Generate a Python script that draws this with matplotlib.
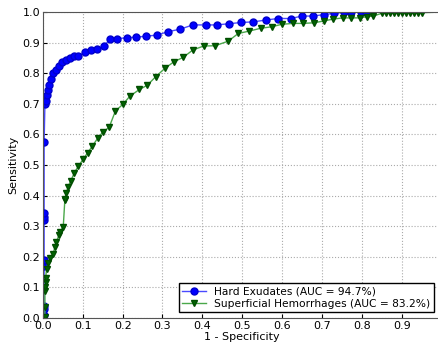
import matplotlib
matplotlib.use('Agg')
from matplotlib import pyplot as plt

# ROC points (1 - specificity, sensitivity)
he_fpr = [0.0, 0.003, 0.003, 0.003, 0.003, 0.003, 0.003, 0.003, 0.003, 0.003, 0.003,
          0.005, 0.0075, 0.009, 0.012, 0.015, 0.020, 0.026, 0.032, 0.040, 0.048,
          0.059, 0.068, 0.079, 0.089, 0.105, 0.120, 0.135, 0.154, 0.168, 0.185,
          0.210, 0.233, 0.258, 0.287, 0.314, 0.344, 0.376, 0.409, 0.436, 0.467,
          0.498, 0.528, 0.559, 0.590, 0.622, 0.650, 0.678, 0.706, 0.731, 0.756,
          0.774, 0.798, 0.810, 1.0]
he_tpr = [0.0, 0.010, 0.030, 0.040, 0.170, 0.180, 0.190, 0.320, 0.330, 0.345, 0.575,
          0.700, 0.708, 0.729, 0.745, 0.761, 0.781, 0.800, 0.810, 0.824, 0.836,
          0.843, 0.851, 0.857, 0.857, 0.868, 0.876, 0.878, 0.890, 0.911, 0.913,
          0.916, 0.918, 0.921, 0.925, 0.936, 0.944, 0.958, 0.958, 0.958, 0.962,
          0.966, 0.968, 0.974, 0.979, 0.979, 0.987, 0.987, 0.992, 0.996, 0.999,
          0.999, 1.0, 1.0, 1.0]

sh_fpr = [0.0, 0.005, 0.005, 0.005, 0.006, 0.007, 0.007, 0.009, 0.013, 0.018, 0.026,
          0.030, 0.034, 0.040, 0.043, 0.051, 0.055, 0.055, 0.059, 0.063, 0.070,
          0.079, 0.089, 0.101, 0.112, 0.124, 0.137, 0.151, 0.166, 0.182, 0.201,
          0.218, 0.242, 0.262, 0.283, 0.306, 0.329, 0.352, 0.376, 0.403, 0.432,
          0.465, 0.490, 0.518, 0.546, 0.574, 0.599, 0.628, 0.652, 0.680, 0.705,
          0.728, 0.752, 0.774, 0.795, 0.812, 0.829, 0.850, 0.862, 0.872, 0.882,
          0.892, 0.902, 0.912, 0.922, 0.932, 0.942, 0.950, 1.0]
sh_tpr = [0.0, 0.004, 0.037, 0.090, 0.100, 0.119, 0.130, 0.162, 0.179, 0.195, 0.211,
          0.233, 0.249, 0.271, 0.282, 0.298, 0.386, 0.388, 0.410, 0.429, 0.449,
          0.475, 0.497, 0.519, 0.540, 0.562, 0.587, 0.609, 0.623, 0.677, 0.699,
          0.725, 0.747, 0.761, 0.789, 0.816, 0.838, 0.852, 0.876, 0.889, 0.890,
          0.905, 0.930, 0.938, 0.947, 0.952, 0.960, 0.963, 0.963, 0.965, 0.971,
          0.977, 0.981, 0.981, 0.981, 0.985, 0.987, 0.996, 0.997, 0.997, 0.997,
          0.997, 0.997, 0.997, 0.997, 0.998, 0.998, 0.998, 1.0]

labels = ['Hard Exudates (AUC = 94.7%)', 'Superficial Hemorrhages (AUC = 83.2%)']

fig = plt.figure(figsize=(4.38, 3.45), dpi=100)
# right edge of the axes falls just outside the picture, as in the reference
ax = fig.add_axes([0.098, 0.078, 0.91, 0.887])

ax.plot(he_fpr, he_tpr, color='#4a4aff', lw=1, marker='o', markersize=5,
        markerfacecolor='#0000ff', markeredgecolor='#0000cc', label=labels[0])
ax.plot(sh_fpr, sh_tpr, color='#4aa84a', lw=1, marker='v', markersize=5,
        markerfacecolor='#006400', markeredgecolor='#004d00', label=labels[1])

ax.set_xlim(0, 1.0)
ax.set_ylim(0, 1.0)
ax.set_xticks([i / 10 for i in range(10)])
ax.set_yticks([i / 10 for i in range(11)])
ax.tick_params(labelsize=8, length=3, direction='in', pad=2)
ax.grid(True, linestyle=':', color='#aaaaaa', lw=0.8)
for s in ax.spines.values():
    s.set_color('#555555')

ax.set_xlabel('1 - Specificity', fontsize=8, labelpad=1)
ax.set_ylabel('Sensitivity', fontsize=8, labelpad=3)
ax.legend(loc='lower right', fontsize=7.7, fancybox=False, edgecolor='black',
          borderpad=0.3, labelspacing=0.25, handlelength=2.2, borderaxespad=0.55,
          framealpha=1, bbox_to_anchor=(0.995, 0.0))

fig.savefig('out.png', dpi=100)
